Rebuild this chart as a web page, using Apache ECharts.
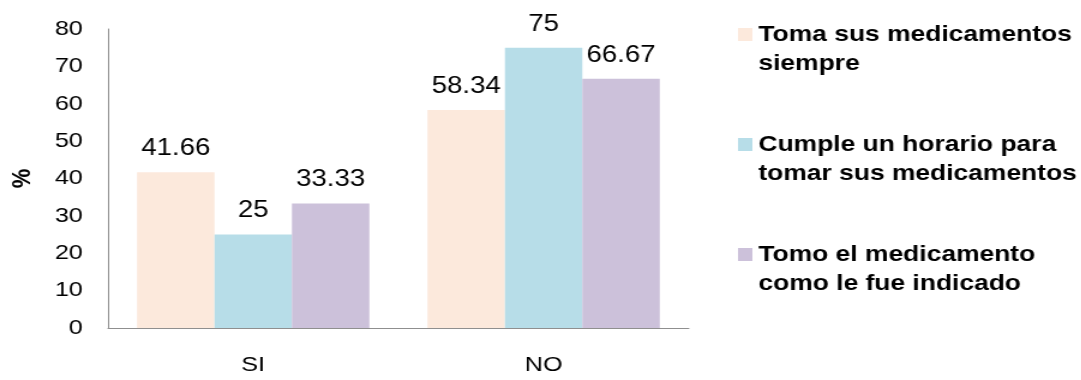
<!DOCTYPE html>
<html>
<head>
<meta charset="utf-8">
<script src="https://cdn.jsdelivr.net/npm/echarts@6/dist/echarts.min.js"></script>
<style>
  html, body { margin: 0; padding: 0; background: #ffffff; overflow: hidden; }
  /* The chart is laid out narrower and widened horizontally, giving the stretched lettering. */
  #chart { width: 901px; height: 380px; transform: scaleX(1.2); transform-origin: 0 0; }
</style>
</head>
<body>
<div id="chart"></div>
<script>
const categories = ['SI', 'NO'];
const seriesNames = [
  'Toma sus medicamentos\nsiempre',
  'Cumple un horario para\ntomar sus medicamentos',
  'Tomo el medicamento\ncomo le fue indicado'
];
const tomaSiempre = [41.66, 58.34];
const cumpleHorario = [25, 75];
const tomoIndicado = [33.33, 66.67];
const yTicks = { min: 0, max: 80, interval: 10 };
const colors = ['#FCE9DC', '#B7DDE8', '#CCC1DA'];

const chart = echarts.init(document.getElementById('chart'), null, { renderer: 'canvas' });

const labelStyle = {
  show: true,
  position: 'top',
  distance: 12,
  color: '#000000',
  fontFamily: 'Liberation Sans, Arial, sans-serif',
  fontSize: 23
};

function bar(name, values, color) {
  return {
    name: name,
    type: 'bar',
    data: values,
    barGap: '0%',
    barCategoryGap: '20%',
    itemStyle: { color: color },
    label: labelStyle,
    emphasis: { disabled: true },
    animation: false
  };
}

chart.setOption({
  animation: false,
  grid: { left: 89, right: 327, top: 29, bottom: 52, containLabel: false },
  legend: {
    orient: 'vertical',
    left: 615,
    top: -9,
    padding: 0,
    itemWidth: 12,
    itemHeight: 13,
    itemGap: 23,
    icon: 'rect',
    selectedMode: false,
    data: seriesNames,
    // a blank first line keeps the swatch level with the first line of each entry
    formatter: function (name) { return '\n' + name; },
    textStyle: {
      color: '#000000',
      fontFamily: 'Liberation Sans, Arial, sans-serif',
      fontWeight: 'bold',
      fontSize: 22,
      lineHeight: 29
    }
  },
  xAxis: {
    type: 'category',
    data: categories,
    axisLine: { show: true, lineStyle: { color: '#8f8f8f', width: 1 } },
    axisTick: { show: false },
    axisLabel: {
      color: '#000000',
      fontFamily: 'Liberation Sans, Arial, sans-serif',
      fontSize: 21,
      margin: 27
    },
    splitLine: { show: false }
  },
  yAxis: {
    type: 'value',
    min: yTicks.min,
    max: yTicks.max,
    interval: yTicks.interval,
    name: '%',
    nameLocation: 'middle',
    nameRotate: 90,
    nameGap: 60,
    nameTextStyle: {
      color: '#000000',
      fontFamily: 'Liberation Sans, Arial, sans-serif',
      fontWeight: 'bold',
      fontSize: 22
    },
    axisLine: { show: true, lineStyle: { color: '#8f8f8f', width: 1 } },
    axisTick: { show: false },
    axisLabel: {
      color: '#000000',
      fontFamily: 'Liberation Sans, Arial, sans-serif',
      fontSize: 21,
      margin: 21
    },
    splitLine: { show: false }
  },
  series: [
    bar(seriesNames[0], tomaSiempre, colors[0]),
    bar(seriesNames[1], cumpleHorario, colors[1]),
    bar(seriesNames[2], tomoIndicado, colors[2])
  ]
});
</script>
</body>
</html>
